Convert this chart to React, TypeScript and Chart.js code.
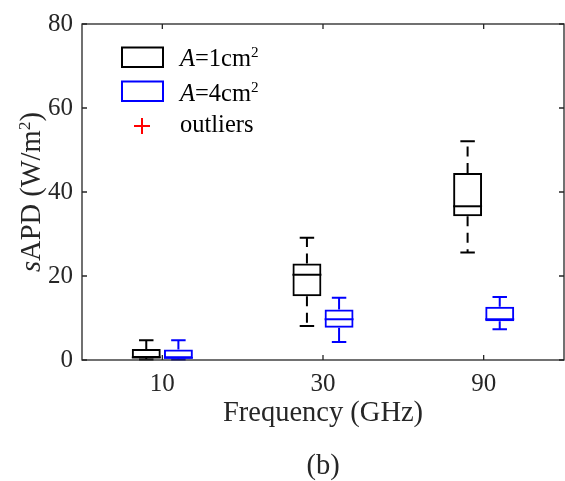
import React, { useEffect, useRef } from 'react';
import { Chart, registerables } from 'chart.js';

Chart.register(...registerables);

// ---- data ----
const categories = ['10', '30', '90'];
const yTicks = [0, 20, 40, 60, 80];
// A = 1 cm^2 (black)
const a1Min = [0.1, 8.1, 25.6];
const a1Q1 = [0.5, 15.2, 34.2];
const a1Median = [0.6, 20.3, 36.6];
const a1Q3 = [2.6, 23.0, 44.5];
const a1Max = [4.7, 29.1, 52.1];
// A = 4 cm^2 (blue)
const a4Min = [0.1, 4.3, 7.3];
const a4Q1 = [0.4, 7.7, 9.2];
const a4Median = [0.5, 9.7, 9.7];
const a4Q3 = [2.5, 12.0, 12.7];
const a4Max = [4.7, 14.8, 15.0];

const FONT = "'Liberation Serif', 'Times New Roman', serif";
const AXIS_COLOR = '#262626';
const TICK_SIZE = 25;
const LABEL_SIZE = 28.5;
const LEGEND_SIZE = 24.5;

type Part = { text: string; italic?: boolean; sup?: boolean };

function partFont(p: Part, size: number) {
  const s = p.sup ? size * 0.62 : size;
  return `${p.italic ? 'italic ' : ''}${s}px ${FONT}`;
}

function drawRich(ctx: CanvasRenderingContext2D, parts: Part[], x: number, y: number, size: number, align: 'left' | 'center') {
  let total = 0;
  const widths = parts.map((p) => {
    ctx.font = partFont(p, size);
    const w = ctx.measureText(p.text).width;
    total += w;
    return w;
  });
  let cx = align === 'center' ? x - total / 2 : x;
  ctx.textAlign = 'left';
  ctx.textBaseline = 'alphabetic';
  parts.forEach((p, i) => {
    ctx.font = partFont(p, size);
    ctx.fillText(p.text, cx, p.sup ? y - size * 0.36 : y);
    cx += widths[i];
  });
}

const stats = [
  { min: a1Min, q1: a1Q1, med: a1Median, q3: a1Q3, max: a1Max, color: '#000000', dashed: true },
  { min: a4Min, q1: a4Q1, med: a4Median, q3: a4Q3, max: a4Max, color: '#0000ff', dashed: false },
];

const boxPlugin = {
  id: 'boxDecor',
  afterDatasetsDraw(chart: any) {
    const ctx: CanvasRenderingContext2D = chart.ctx;
    const y = chart.scales.y;
    stats.forEach((st, di) => {
      const meta = chart.getDatasetMeta(di);
      meta.data.forEach((el: any, j: number) => {
        const x = el.x;
        const w = el.width;
        ctx.save();
        ctx.strokeStyle = st.color;
        ctx.lineWidth = 2;
        // median
        ctx.beginPath();
        ctx.moveTo(x - w / 2, y.getPixelForValue(st.med[j]));
        ctx.lineTo(x + w / 2, y.getPixelForValue(st.med[j]));
        ctx.stroke();
        // whiskers
        ctx.setLineDash(st.dashed ? [10, 6.5] : []);
        ctx.beginPath();
        ctx.moveTo(x, y.getPixelForValue(st.q3[j]));
        ctx.lineTo(x, y.getPixelForValue(st.max[j]));
        ctx.moveTo(x, y.getPixelForValue(st.q1[j]));
        ctx.lineTo(x, y.getPixelForValue(st.min[j]));
        ctx.stroke();
        ctx.setLineDash([]);
        // caps
        const cw = w / 4;
        ctx.beginPath();
        ctx.moveTo(x - cw, y.getPixelForValue(st.max[j]));
        ctx.lineTo(x + cw, y.getPixelForValue(st.max[j]));
        ctx.moveTo(x - cw, y.getPixelForValue(st.min[j]));
        ctx.lineTo(x + cw, y.getPixelForValue(st.min[j]));
        ctx.stroke();
        ctx.restore();
      });
    });
  },
  afterDraw(chart: any) {
    const ctx: CanvasRenderingContext2D = chart.ctx;
    const { left, right, top, bottom } = chart.chartArea;
    const xs = chart.scales.x;
    const ys = chart.scales.y;
    ctx.save();
    // frame
    ctx.strokeStyle = AXIS_COLOR;
    ctx.lineWidth = 1.3;
    ctx.strokeRect(left, top, right - left, bottom - top);
    // inward ticks
    ctx.beginPath();
    categories.forEach((_, i) => {
      const px = xs.getPixelForValue(i);
      ctx.moveTo(px, bottom);
      ctx.lineTo(px, bottom - 5);
      ctx.moveTo(px, top);
      ctx.lineTo(px, top + 5);
    });
    yTicks.forEach((v) => {
      const py = ys.getPixelForValue(v);
      ctx.moveTo(left, py);
      ctx.lineTo(left + 5, py);
      ctx.moveTo(right, py);
      ctx.lineTo(right - 5, py);
    });
    ctx.stroke();

    // axis titles
    ctx.fillStyle = AXIS_COLOR;
    const cx = (left + right) / 2;
    drawRich(ctx, [{ text: 'Frequency (GHz)' }], cx, 421, LABEL_SIZE, 'center');
    drawRich(ctx, [{ text: '(b)' }], cx, 474, LABEL_SIZE, 'center');

    ctx.save();
    ctx.translate(40, (top + bottom) / 2);
    ctx.rotate(-Math.PI / 2);
    drawRich(
      ctx,
      [{ text: 's', italic: true }, { text: 'APD (W/m' }, { text: '2', sup: true }, { text: ')' }],
      0,
      0,
      LABEL_SIZE,
      'center'
    );
    ctx.restore();

    // legend
    ctx.lineWidth = 2;
    ctx.strokeStyle = '#000000';
    ctx.strokeRect(122, 47.5, 41, 19.5);
    ctx.strokeStyle = '#0000ff';
    ctx.strokeRect(122, 81.5, 41, 19.5);
    ctx.strokeStyle = '#ff0000';
    ctx.beginPath();
    ctx.moveTo(134, 126);
    ctx.lineTo(150, 126);
    ctx.moveTo(142, 118);
    ctx.lineTo(142, 134);
    ctx.stroke();
    ctx.fillStyle = '#000000';
    drawRich(ctx, [{ text: 'A', italic: true }, { text: '=1cm' }, { text: '2', sup: true }], 180, 66, LEGEND_SIZE, 'left');
    drawRich(ctx, [{ text: 'A', italic: true }, { text: '=4cm' }, { text: '2', sup: true }], 180, 101, LEGEND_SIZE, 'left');
    drawRich(ctx, [{ text: 'outliers' }], 180, 132, LEGEND_SIZE, 'left');
    ctx.restore();
  },
};

export default function App() {
  const ref = useRef<HTMLCanvasElement>(null);
  useEffect(() => {
    document.body.style.margin = '0';
    const canvas = ref.current!;
    const chart = new Chart(canvas, {
      type: 'bar',
      data: {
        labels: categories,
        datasets: [
          {
            label: 'A=1cm2',
            data: categories.map((_, i) => [a1Q1[i], a1Q3[i]]) as any,
            backgroundColor: 'rgba(0,0,0,0)',
            borderColor: '#000000',
            borderWidth: 2,
            borderSkipped: false,
            categoryPercentage: 0.4,
            barPercentage: 0.9,
          },
          {
            label: 'A=4cm2',
            data: categories.map((_, i) => [a4Q1[i], a4Q3[i]]) as any,
            backgroundColor: 'rgba(0,0,0,0)',
            borderColor: '#0000ff',
            borderWidth: 2,
            borderSkipped: false,
            categoryPercentage: 0.4,
            barPercentage: 0.9,
          },
        ],
      },
      options: {
        responsive: false,
        animation: false,
        devicePixelRatio: 1,
        layout: { padding: { top: 22, right: 1, left: 0, bottom: 0 } },
        plugins: { legend: { display: false }, tooltip: { enabled: false }, title: { display: false } },
        scales: {
          x: {
            grid: { display: false, drawTicks: false },
            border: { display: false },
            ticks: { font: { family: FONT, size: TICK_SIZE }, color: AXIS_COLOR, padding: 9 },
            afterFit: (s: any) => {
              s.height = 121;
            },
          },
          y: {
            min: 0,
            max: 80,
            grid: { display: false, drawTicks: false },
            border: { display: false },
            ticks: {
              stepSize: 20,
              font: { family: FONT, size: TICK_SIZE },
              color: AXIS_COLOR,
              padding: 9,
            },
            afterFit: (s: any) => {
              s.width = 82;
            },
          },
        },
      },
      plugins: [boxPlugin],
    });
    return () => chart.destroy();
  }, []);
  return <canvas ref={ref} width={565} height={481} style={{ display: 'block' }} />;
}
